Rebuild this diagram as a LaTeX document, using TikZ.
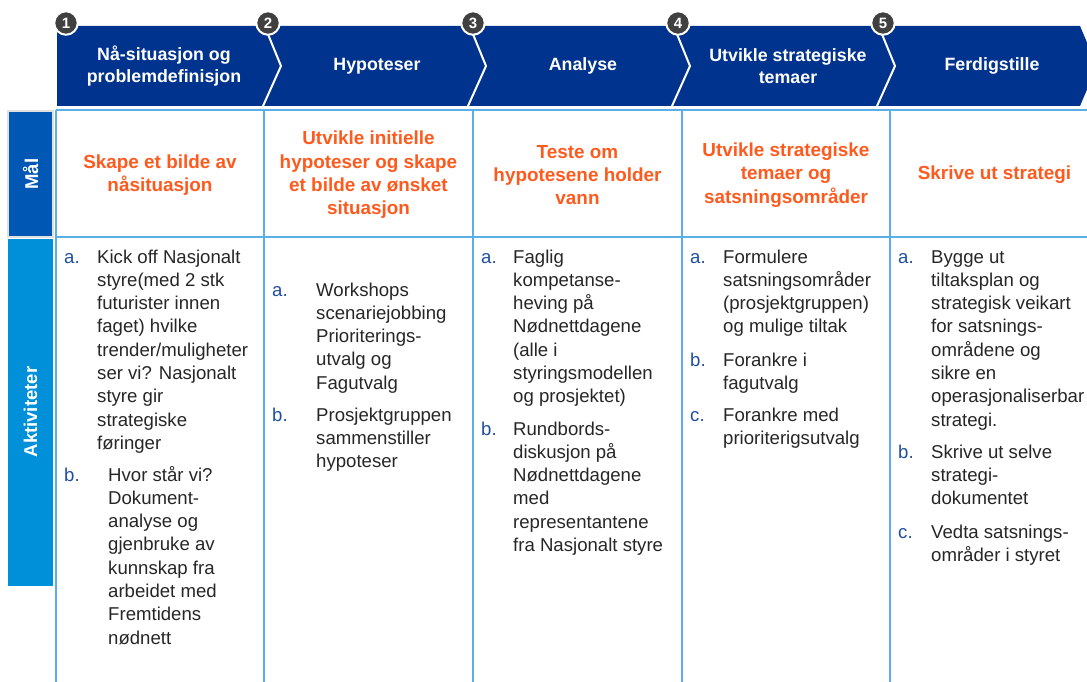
\documentclass[tikz,border=0pt]{standalone}
\usepackage{fontspec}
\setmainfont{Liberation Sans}
\definecolor{navy}{HTML}{00338D}
\definecolor{malblue}{HTML}{0058B4}
\definecolor{aktblue}{HTML}{0090DA}
\definecolor{gridblue}{HTML}{5AB0E6}
\definecolor{orangeT}{HTML}{FF5A1E}
\definecolor{bodyT}{HTML}{262626}
\definecolor{lblblue}{HTML}{1F4E9F}
\definecolor{numgray}{HTML}{404040}
\newcommand\celltext[1]{\parbox[t]{200pt}{\raggedright #1}}
\tikzset{
  hdr/.style={text=white, font=\bfseries\fontsize{17.8}{22.5}\selectfont, align=center, inner sep=0},
  goal/.style={text=orangeT, font=\bfseries\fontsize{18.9}{23.3}\selectfont, align=center, inner sep=0},
  lbl/.style={text=lblblue, font=\fontsize{18.6}{23.3}\selectfont, anchor=base west, inner sep=0},
  body/.style={text=bodyT, font=\fontsize{18.6}{23.3}\selectfont, anchor=base west, inner sep=0},
  numc/.style={circle, fill=numgray, draw=white, line width=2pt, minimum size=23.5pt, inner sep=0, text=white, font=\bfseries\fontsize{15}{15}\selectfont},
  divider/.style={draw=white, line width=2pt},
  grid/.style={draw=gridblue, line width=1.6pt},
  sidelbl/.style={text=white, font=\bfseries\fontsize{18.5}{20}\selectfont, rotate=90, inner sep=0},
}
\begin{document}
\begin{tikzpicture}[x=1pt,y=-1pt]
\useasboundingbox (0,0) rectangle (1087,682);
\clip (0,0) rectangle (1087,682);
% header band
\fill[navy] (57,26) -- (1080,26) -- (1097,66) -- (1080,106) -- (57,106) -- cycle;
\foreach \t in {281,486,690,895}{
  \draw[divider] (\t-18,22) -- (\t,66) -- (\t-18,106);
}
% step numbers
\node[numc] (n1) at (66,23) {1};
\node[numc] (n2) at (268,23) {2};
\node[numc] (n3) at (473,23) {3};
\node[numc] (n4) at (678,23) {4};
\node[numc] (n5) at (883,23) {5};
% header texts
\node[hdr] (h1) at (164,66) {Nå-situasjon og\\problemdefinisjon};
\node[hdr] (h2) at (377,66) {Hypoteser};
\node[hdr] (h3) at (583,66) {Analyse};
\node[hdr] (h4) at (788,66) {Utvikle strategiske\\temaer};
\node[hdr] (h5) at (992,66) {Ferdigstille};
% side labels
\fill[malblue, draw=black!12, line width=1.5pt] (8,111) rectangle (53,237);
\node[sidelbl] (mal) at (30.5,174) {Mål};
\fill[aktblue] (8,239) rectangle (53,586);
\node[sidelbl] (akt) at (30.5,412) {Aktiviteter};
% grid
\draw[grid] (56,110) -- (1087,110);
\draw[grid] (56,237) -- (1087,237);
\foreach \x in {56,264,473,682,890}{
  \draw[grid] (\x,110) -- (\x,682);
}
% goals
\node[goal] (g1) at (160,175) {Skape et bilde av\\nåsituasjon};
\node[goal] (g2) at (368.5,175) {Utvikle initielle\\hypoteser og skape\\et bilde av ønsket\\situasjon};
\node[goal] (g3) at (577.5,175) {Teste om\\hypotesene holder\\vann};
\node[goal] (g4) at (786,175) {Utvikle strategiske\\temaer og\\satsningsområder};
\node[goal] (g5) at (994.5,175) {Skrive ut strategi};
% column 1
\node[lbl] (c1a) at (64,263) {a.};
\node[body] (t1a) at (97,263) {\celltext{Kick off  Nasjonalt\\styre(med 2 stk\\futurister innen\\faget) hvilke\\trender/muligheter\\ser vi? Nasjonalt\\styre gir\\strategiske\\føringer}};
\node[lbl] (c1b) at (64,481) {b.};
\node[body] (t1b) at (108,481) {\celltext{Hvor står vi?\\Dokument-\\analyse og\\gjenbruke av\\kunnskap  fra\\arbeidet med\\Fremtidens\\nødnett}};
% column 2
\node[lbl] (c2a) at (272,296) {a.};
\node[body] (t2a) at (316,296) {\celltext{Workshops\\scenariejobbing\\Prioriterings-\\utvalg og\\Fagutvalg}};
\node[lbl] (c2b) at (272,421) {b.};
\node[body] (t2b) at (316,421) {\celltext{Prosjektgruppen\\sammenstiller\\hypoteser}};
% column 3
\node[lbl] (c3a) at (481,263) {a.};
\node[body] (t3a) at (513,263) {\celltext{Faglig\\kompetanse-\\heving på\\Nødnettdagene\\(alle i\\styringsmodellen\\og prosjektet)}};
\node[lbl] (c3b) at (481,435) {b.};
\node[body] (t3b) at (513,435) {\celltext{Rundbords-\\diskusjon på\\Nødnettdagene\\med\\representantene\\fra Nasjonalt  styre}};
% column 4
\node[lbl] (c4a) at (690,263) {a.};
\node[body] (t4a) at (723,263) {\celltext{Formulere\\satsningsområder\\(prosjektgruppen)\\og mulige tiltak}};
\node[lbl] (c4b) at (690,366) {b.};
\node[body] (t4b) at (723,366) {\celltext{Forankre i\\fagutvalg}};
\node[lbl] (c4c) at (690,421) {c.};
\node[body] (t4c) at (723,421) {\celltext{Forankre med\\prioriterigsutvalg}};
% column 5
\node[lbl] (c5a) at (898,263) {a.};
\node[body] (t5a) at (931,263) {\celltext{Bygge ut\\tiltaksplan og\\strategisk veikart\\for satsnings-\\områdene og\\sikre en\\operasjonaliserbar\\strategi.}};
\node[lbl] (c5b) at (898,458) {b.};
\node[body] (t5b) at (931,458) {\celltext{Skrive ut selve\\strategi-\\dokumentet}};
\node[lbl] (c5c) at (898,538) {c.};
\node[body] (t5c) at (931,538) {\celltext{Vedta satsnings-\\områder i styret}};
\end{tikzpicture}
\end{document}
